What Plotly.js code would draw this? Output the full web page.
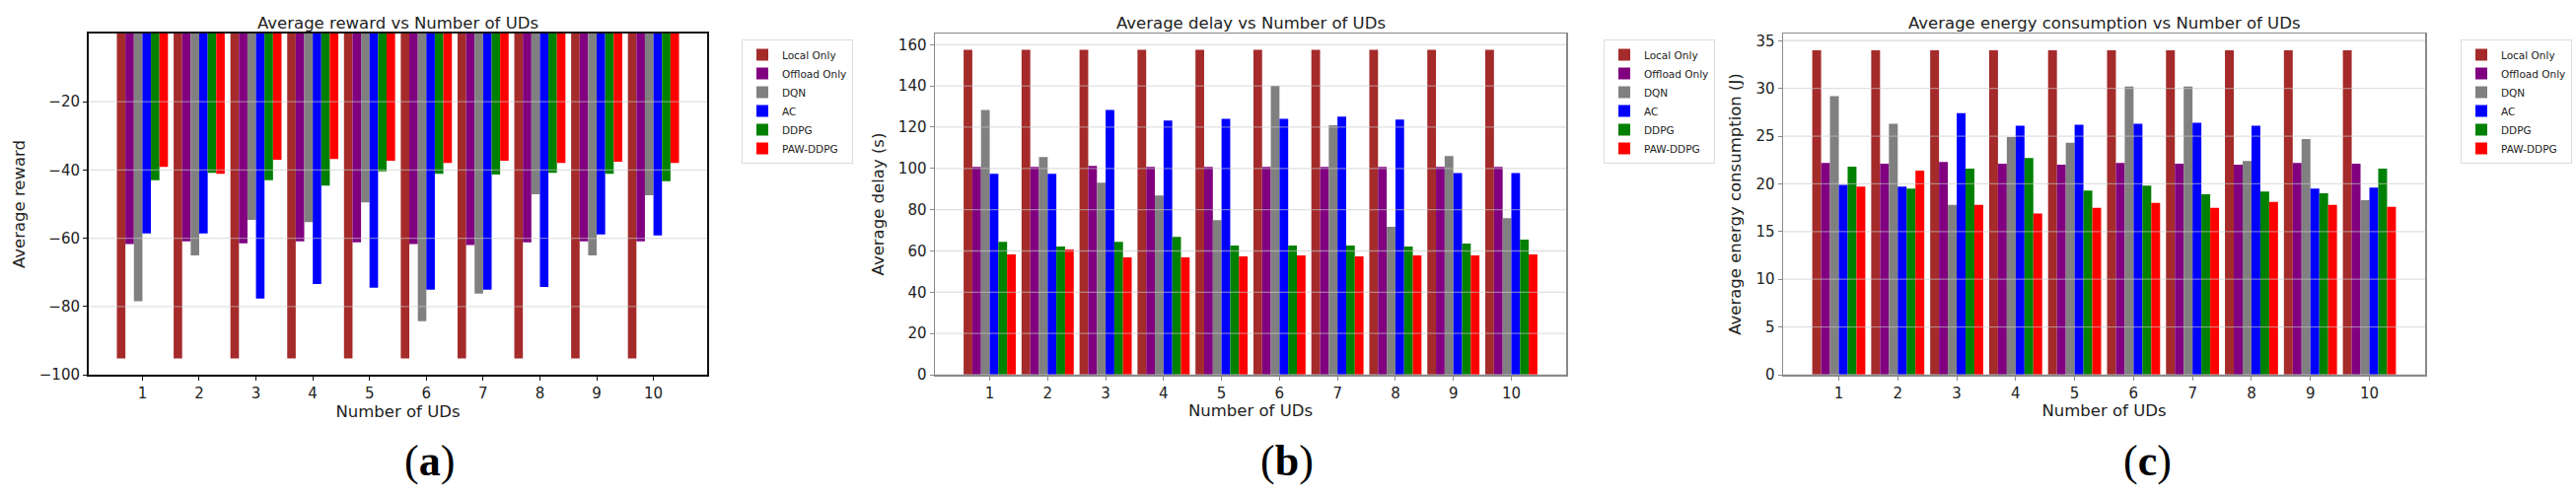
<!DOCTYPE html>
<html>
<head>
<meta charset="utf-8">
<script src="https://cdn.plot.ly/plotly-3.0.1.min.js"></script>
<style>
  html, body { margin: 0; padding: 0; background: #fff; }
  #chart { width: 2612px; height: 503px; }
</style>
</head>
<body>
<div id="chart"></div>
<script>
// number of UDs on the x axis
var udCounts = [1, 2, 3, 4, 5, 6, 7, 8, 9, 10];
var methodNames = ["Local Only", "Offload Only", "DQN", "AC", "DDPG", "PAW-DDPG"];
var methodColors = ["#a52a2a", "#800080", "#808080", "#0000ff", "#008000", "#ff0000"];

// (a) average reward
var rewardLocal   = [-95.2, -95.2, -95.2, -95.2, -95.2, -95.2, -95.2, -95.2, -95.2, -95.2];
var rewardOffload = [-61.7, -60.9, -61.5, -60.9, -61.2, -61.7, -62.0, -61.2, -60.9, -60.9];
var rewardDQN     = [-78.5, -65.0, -54.6, -55.3, -49.5, -84.3, -76.2, -47.1, -65.0, -47.4];
var rewardAC      = [-58.6, -58.6, -77.7, -73.4, -74.5, -75.1, -75.1, -74.3, -58.9, -59.2];
var rewardDDPG    = [-43.0, -40.8, -43.0, -44.6, -40.4, -41.1, -41.3, -40.8, -41.1, -43.3];
var rewardPAW     = [-39.1, -41.1, -37.0, -36.8, -37.3, -37.9, -37.3, -37.9, -37.6, -37.9];

// (b) average delay (s)
var delayLocal   = [157.5, 157.5, 157.5, 157.5, 157.5, 157.5, 157.5, 157.5, 157.5, 157.5];
var delayOffload = [100.7, 100.7, 101.2, 100.7, 100.7, 100.7, 100.7, 100.7, 100.7, 100.7];
var delayDQN     = [128.3, 105.5, 93.1, 86.9, 74.9, 140.1, 121.0, 71.7, 106.0, 75.9];
var delayAC      = [97.4, 97.4, 128.3, 123.2, 124.1, 124.1, 125.1, 123.7, 97.8, 97.8];
var delayDDPG    = [64.4, 62.2, 64.4, 66.8, 62.6, 62.6, 62.6, 62.2, 63.6, 65.5];
var delayPAW     = [58.3, 60.7, 56.9, 56.9, 57.4, 57.8, 57.4, 57.8, 57.8, 58.3];

// (c) average energy consumption (J)
var energyLocal   = [34.0, 34.0, 34.0, 34.0, 34.0, 34.0, 34.0, 34.0, 34.0, 34.0];
var energyOffload = [22.2, 22.1, 22.3, 22.1, 22.0, 22.2, 22.1, 22.0, 22.2, 22.1];
var energyDQN     = [29.2, 26.3, 17.8, 24.9, 24.3, 30.2, 30.2, 22.4, 24.7, 18.3];
var energyAC      = [19.9, 19.7, 27.4, 26.1, 26.2, 26.3, 26.4, 26.1, 19.5, 19.6];
var energyDDPG    = [21.8, 19.5, 21.6, 22.7, 19.3, 19.8, 18.9, 19.2, 19.0, 21.6];
var energyPAW     = [19.7, 21.4, 17.8, 16.9, 17.5, 18.0, 17.5, 18.1, 17.8, 17.6];

var rewardTicks = [-100, -80, -60, -40, -20];
var delayTicks = [0, 20, 40, 60, 80, 100, 120, 140, 160];
var energyTicks = [0, 5, 10, 15, 20, 25, 30, 35];

var panels = [
    { series: [rewardLocal, rewardOffload, rewardDQN, rewardAC, rewardDDPG, rewardPAW],
      xa: "x", ya: "y", legend: "legend" },
    { series: [delayLocal, delayOffload, delayDQN, delayAC, delayDDPG, delayPAW],
      xa: "x2", ya: "y2", legend: "legend2" },
    { series: [energyLocal, energyOffload, energyDQN, energyAC, energyDDPG, energyPAW],
      xa: "x3", ya: "y3", legend: "legend3" }
];

var barWidth = 0.15;
var traces = [];
panels.forEach(function (p) {
    p.series.forEach(function (vals, i) {
        traces.push({
            type: "bar",
            x: udCounts,
            y: vals,
            name: methodNames[i],
            width: barWidth,
            offset: (i - 3) * barWidth,
            marker: { color: methodColors[i], line: { width: 0 } },
            xaxis: p.xa,
            yaxis: p.ya,
            legend: p.legend
        });
    });
});

var baseFont = { family: "DejaVu Sans", size: 15, color: "#222" };

function xAxis(domain, anchor, lineColor, lineWidth) {
    return {
        domain: domain, anchor: anchor,
        range: [0.055, 10.945],
        tickvals: udCounts,
        ticks: "outside", ticklen: 4, tickcolor: lineColor,
        showgrid: false, zeroline: false,
        showline: true, mirror: true, linecolor: lineColor, linewidth: lineWidth,
        tickfont: { size: 15 },
        title: { text: "Number of UDs", font: { size: 16.5 }, standoff: 4 }
    };
}

function yAxis(domain, anchor, range, ticks, title, lineColor, lineWidth) {
    return {
        domain: domain, anchor: anchor,
        range: range,
        tickvals: ticks,
        ticks: "outside", ticklen: 4, tickcolor: lineColor,
        showgrid: false, zeroline: false,
        showline: true, mirror: true, linecolor: lineColor, linewidth: lineWidth,
        tickfont: { size: 15 },
        title: { text: title, font: { size: 16.5 }, standoff: 10 }
    };
}

var yDom = [1 - 380 / 503, 1 - 34 / 503];
var xDomA = [90 / 2612, 717 / 2612];
var xDomB = [948 / 2612, 1588 / 2612];
var xDomC = [1808 / 2612, 2459 / 2612];

// light grid drawn over the bars like the original
var shapes = [];
[[rewardTicks, "x", "y"], [delayTicks, "x2", "y2"], [energyTicks, "x3", "y3"]].forEach(function (g) {
    g[0].forEach(function (v) {
        shapes.push({
            type: "line", layer: "above",
            xref: g[1] + " domain", yref: g[2],
            x0: 0, x1: 1, y0: v, y1: v,
            line: { color: "rgba(200,200,200,0.55)", width: 1.3 }
        });
    });
});

function legendAt(xpx) {
    return {
        x: xpx / 2612, y: 1 - 40 / 503, xanchor: "left", yanchor: "top",
        bgcolor: "#fff", bordercolor: "#dcdcdc", borderwidth: 1,
        font: { size: 10.5, color: "#222" },
        itemwidth: 30, tracegroupgap: 0
    };
}

var titleFont = { size: 16.5, color: "#222" };
var labelFont = { family: "Liberation Serif", size: 44, color: "#000" };

function paperText(text, xpx, ypx, font) {
    return { text: text, xref: "paper", yref: "paper",
             x: xpx / 2612, y: 1 - ypx / 503,
             xanchor: "center", yanchor: "middle", showarrow: false, font: font };
}

var layout = {
    width: 2612,
    height: 503,
    margin: { l: 0, r: 0, t: 0, b: 0 },
    paper_bgcolor: "#fff",
    plot_bgcolor: "#fff",
    font: baseFont,
    barmode: "overlay",
    showlegend: true,
    xaxis: xAxis(xDomA, "y", "#111", 2),
    yaxis: yAxis(yDom, "x", [-100, 0], rewardTicks, "Average reward", "#111", 2),
    xaxis2: xAxis(xDomB, "y2", "#8a8a8a", 1.5),
    yaxis2: yAxis(yDom, "x2", [0, 165.4], delayTicks, "Average delay (s)", "#8a8a8a", 1.5),
    xaxis3: xAxis(xDomC, "y3", "#8a8a8a", 1.5),
    yaxis3: yAxis(yDom, "x3", [0, 35.75], energyTicks, "Average energy consumption (J)", "#8a8a8a", 1.5),
    legend: legendAt(752),
    legend2: legendAt(1626),
    legend3: legendAt(2495),
    shapes: shapes,
    annotations: [
        paperText("Average reward vs Number of UDs", 403, 24, titleFont),
        paperText("Average delay vs Number of UDs", 1268, 24, titleFont),
        paperText("Average energy consumption vs Number of UDs", 2133, 24, titleFont),
        paperText("(<b>a</b>)", 435, 467, labelFont),
        paperText("(<b>b</b>)", 1305, 467, labelFont),
        paperText("(<b>c</b>)", 2177, 467, labelFont)
    ]
};

Plotly.newPlot(document.getElementById("chart"), traces, layout, { displayModeBar: false, staticPlot: true });
</script>
</body>
</html>
